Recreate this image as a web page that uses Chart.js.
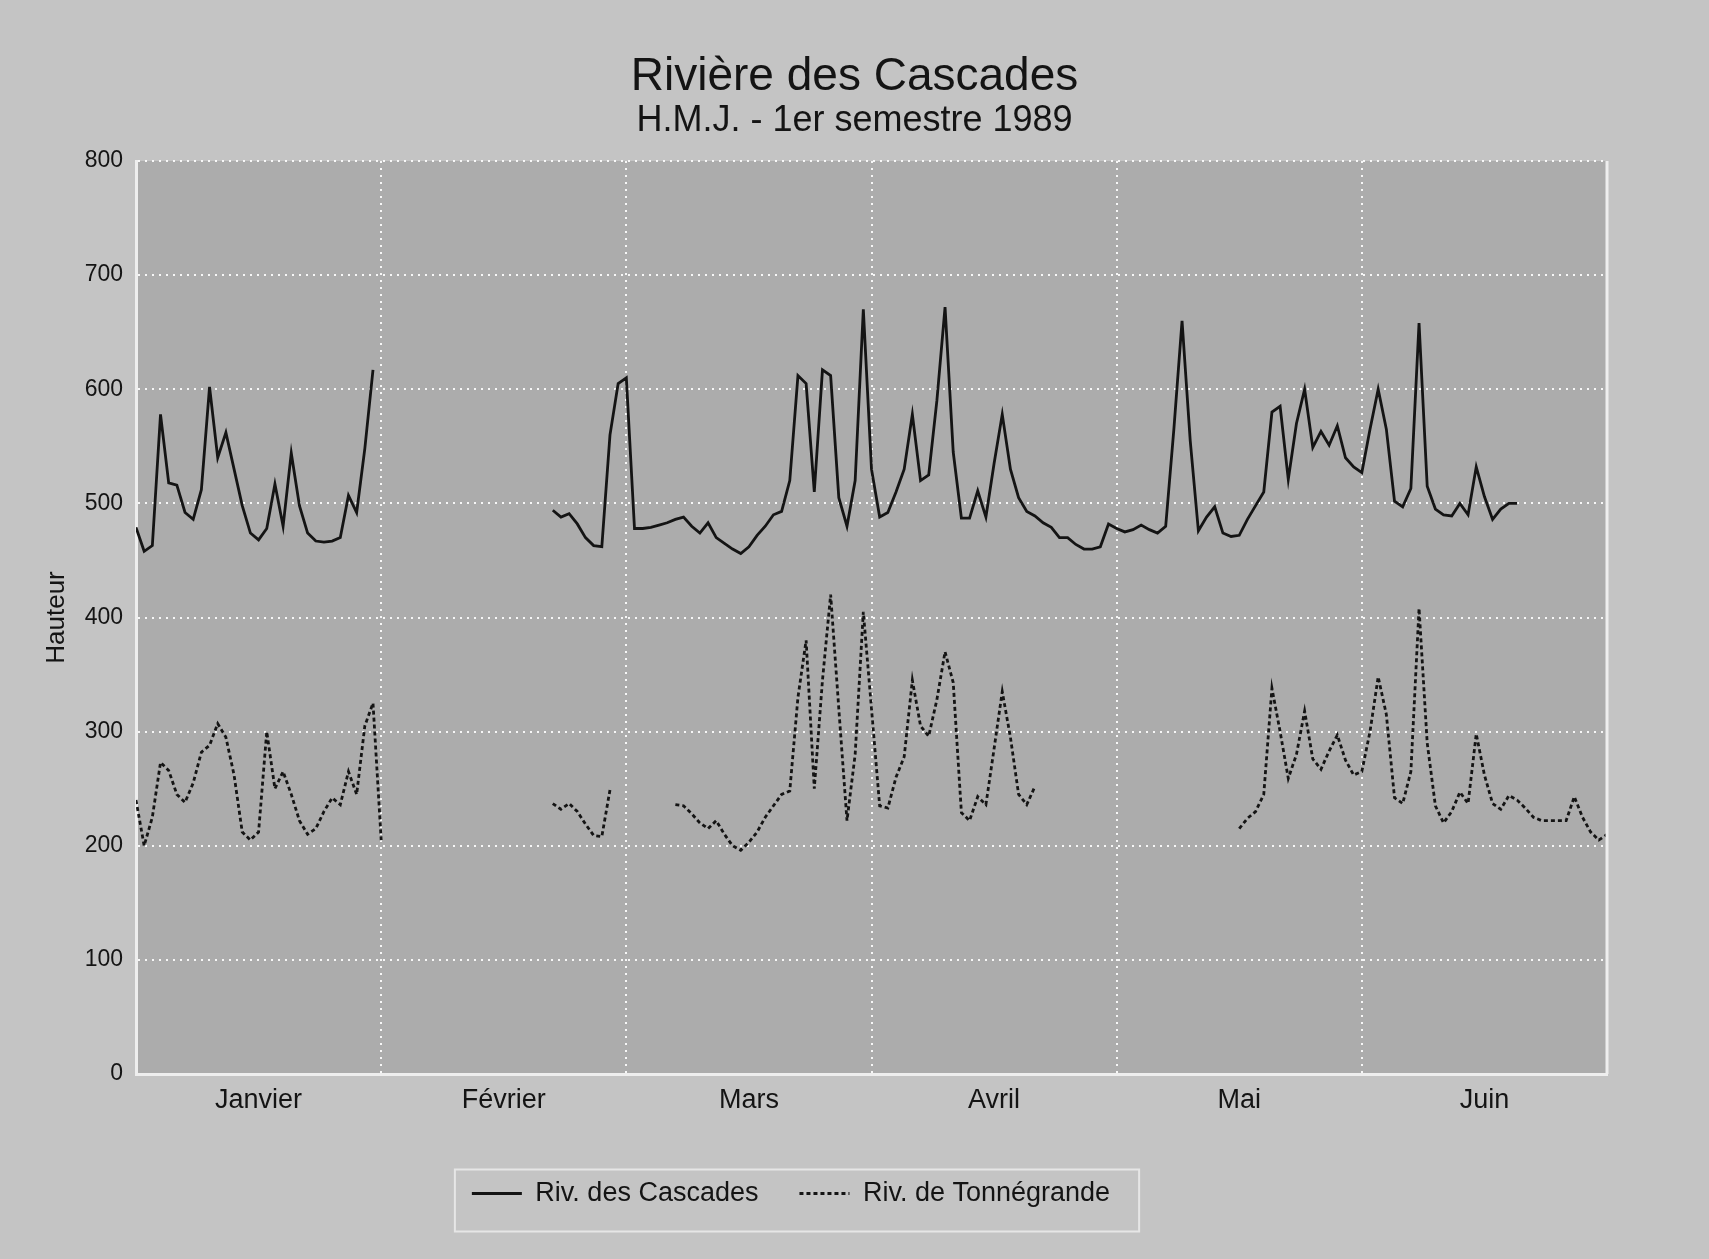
<!DOCTYPE html>
<html lang="fr">
<head>
<meta charset="utf-8">
<title>Rivière des Cascades</title>
<script src="https://cdn.jsdelivr.net/npm/chart.js@4.4.0/dist/chart.umd.min.js"></script>
<style>
  html, body { margin: 0; padding: 0; background: #c4c4c4; }
  canvas { display: block; }
</style>
</head>
<body>
<canvas id="hauteurChart" width="1709" height="1259"></canvas>
<script>
// Mois affichés sous l'axe X (6 intervalles égaux)
const mois = ['Janvier', 'Février', 'Mars', 'Avril', 'Mai', 'Juin'];

// Hauteurs journalières - Riv. des Cascades (null = pas de mesure)
const cascadesJanvier = [479, 458, 463, 578, 518, 516, 492, 486, 512, 602, 540, 562, 530, 498, 474, 468,
  478, 517, 480, 544, 498, 474, 467, 466, 467, 470, 507, 492, 548, 617, null];
const cascadesFevrier = [null, null, null, null, null, null, null, null, null, null, null, null, null, null,
  null, null, null, null, null, null, 494, 488, 491, 482, 470, 463, 462, 560];
const cascadesMars = [605, 610, 478, 478, 479, 481, 483, 486, 488, 480, 474, 483, 470, 465, 460, 456,
  462, 472, 480, 490, 493, 520, 612, 605, 510, 617, 612, 505, 480, 520, 670];
const cascadesAvril = [530, 488, 492, 510, 530, 578, 520, 525, 590, 672, 545, 487, 487, 511, 488, 535,
  578, 530, 505, 493, 489, 483, 479, 470, 470, 464, 460, 460, 462, 482];
const cascadesMai = [478, 475, 477, 481, 477, 474, 480, 565, 660, 555, 476, 488, 497, 474, 471, 472,
  486, 498, 510, 580, 585, 521, 570, 600, 549, 563, 551, 568, 540, 532, 527];
const cascadesJuin = [565, 600, 565, 502, 497, 513, 658, 515, 495, 490, 489, 500, 490, 532, 506, 486,
  495, 500, 500, null, null, null, null, null, null, null, null, null, null, null];

// Hauteurs journalières - Riv. de Tonnégrande
const tonnegrandeJanvier = [240, 200, 225, 273, 266, 245, 238, 255, 282, 288, 307, 295, 262, 212, 205, 212,
  300, 250, 265, 245, 222, 210, 215, 230, 242, 236, 265, 245, 305, 325, 205];
const tonnegrandeFevrier = [null, null, null, null, null, null, null, null, null, null, null, null, null, null,
  null, null, null, null, null, null, 237, 232, 237, 230, 219, 209, 208, 249];
const tonnegrandeMars = [null, null, null, null, null, null, null, 236, 235, 228, 220, 215, 222, 210, 200, 196,
  203, 212, 225, 235, 245, 248, 330, 380, 250, 345, 420, 320, 222, 280, 405];
const tonnegrandeAvril = [320, 235, 233, 260, 278, 345, 305, 296, 328, 370, 343, 229, 222, 243, 236, 285,
  335, 295, 245, 236, 252, null, null, null, null, null, null, null, null, null];
const tonnegrandeMai = [null, null, null, null, null, null, null, null, null, null, null, null, null, null, null,
  215, 224, 230, 245, 338, 300, 259, 280, 318, 276, 267, 283, 297, 275, 262, 265];
const tonnegrandeJuin = [300, 348, 315, 242, 237, 265, 408, 290, 235, 220, 230, 247, 237, 298, 262, 237,
  232, 244, 240, 233, 225, 222, 222, 222, 222, 243, 225, 212, 205, 210];

// Jour n (0 = 1er janvier) -> point {x, y}
const enPoints = serie => serie.map((y, i) => ({ x: i, y: y }));
const cascades = enPoints([].concat(cascadesJanvier, cascadesFevrier, cascadesMars,
  cascadesAvril, cascadesMai, cascadesJuin));
const tonnegrande = enPoints([].concat(tonnegrandeJanvier, tonnegrandeFevrier, tonnegrandeMars,
  tonnegrandeAvril, tonnegrandeMai, tonnegrandeJuin));

const police = "'Liberation Sans', Arial, Helvetica, sans-serif";
const encre = '#141414';
const grille = 'rgba(255, 255, 255, 0.9)';
Chart.defaults.font.family = police;
Chart.defaults.color = encre;

// Fond, bord droit du graphique et cadre de la légende
const cadre = {
  id: 'cadre',
  beforeDraw(chart) {
    const { ctx, chartArea: a } = chart;
    ctx.save();
    ctx.fillStyle = '#c4c4c4';
    ctx.fillRect(0, 0, chart.width, chart.height);
    ctx.fillStyle = '#acacac';
    ctx.fillRect(a.left, a.top, a.right - a.left, a.bottom - a.top);
    ctx.restore();
  },
  afterLayout(chart) {
    // légende décalée vers la gauche et remontée, comme sur l'original
    const lg = chart.legend;
    const centre = 791, milieuY = 1178;
    lg.left = 0;
    lg.right = 2 * centre;
    lg.width = 2 * centre;
    const dy = milieuY - (lg.top + lg.height / 2);
    lg.top += dy;
    lg.bottom += dy;
  },
  afterDraw(chart) {
    const { ctx, chartArea: a, legend } = chart;
    ctx.save();
    ctx.strokeStyle = '#eeeeee';
    ctx.lineWidth = 3;
    ctx.beginPath();
    ctx.moveTo(a.right, a.top);
    ctx.lineTo(a.right, a.bottom);
    ctx.stroke();

    const boites = legend.legendHitBoxes;
    const g = Math.min(...boites.map(b => b.left)) - 17;
    const d = Math.max(...boites.map(b => b.left + b.width)) + 29;
    const cy = boites[0].top + boites[0].height / 2 + 7;
    ctx.lineWidth = 2;
    ctx.strokeStyle = '#e6e6e6';
    ctx.strokeRect(g, cy - 31, d - g, 62);
    ctx.restore();
  }
};

const ctx = document.getElementById('hauteurChart').getContext('2d');
const chart = new Chart(ctx, {
  type: 'line',
  data: {
    datasets: [{
      label: 'Riv. des Cascades',
      data: cascades,
      borderColor: encre,
      borderWidth: 2.8,
      pointRadius: 0,
      tension: 0,
      spanGaps: false
    }, {
      label: 'Riv. de Tonnégrande',
      data: tonnegrande,
      borderColor: encre,
      borderWidth: 2.8,
      borderDash: [4, 3],
      pointRadius: 0,
      tension: 0,
      spanGaps: false
    }]
  },
  options: {
    responsive: false,
    animation: false,
    devicePixelRatio: 1,
    layout: { padding: 0 },
    plugins: {
      title: {
        display: true,
        text: 'Rivière des Cascades',
        color: encre,
        font: { size: 46, weight: 'normal', lineHeight: 1 },
        padding: { top: 54, bottom: 0 }
      },
      subtitle: {
        display: true,
        text: 'H.M.J. - 1er semestre 1989',
        color: encre,
        font: { size: 36, weight: 'normal', lineHeight: 1 },
        padding: { top: 3, bottom: 22 }
      },
      legend: {
        position: 'bottom',
        labels: {
          usePointStyle: true,
          pointStyle: 'line',
          pointStyleWidth: 50,
          padding: 41,
          color: encre,
          font: { size: 27 },
          // trait plein / pointillé repris de chaque série
          generateLabels: c => Chart.defaults.plugins.legend.labels.generateLabels(c).map((item, i) => {
            const ds = c.data.datasets[i];
            item.lineDash = ds.borderDash || [];
            item.lineWidth = ds.borderWidth;
            return item;
          })
        }
      },
      tooltip: { enabled: false }
    },
    scales: {
      x: {
        type: 'linear',
        min: 0,
        max: 180,
        afterBuildTicks: s => {
          s.ticks = [];
          for (let k = 0; k <= 12; k++) s.ticks.push({ value: k * 15 });
        },
        afterFit: s => { s.height = 1259 - 1074 - s.chart.legend.height; },
        ticks: {
          autoSkip: false,
          maxRotation: 0,
          padding: 10,
          font: { size: 27 },
          callback: v => {
            const k = Math.round(v / 15);
            return k % 2 ? mois[(k - 1) / 2] : '';
          }
        },
        grid: {
          drawTicks: false,
          lineWidth: 2,
          color: c => (c.tick && c.tick.value % 30 === 0 && c.tick.value > 0 && c.tick.value < 180)
            ? grille : 'transparent'
        },
        border: { display: true, color: '#eeeeee', width: 3, dash: [2, 5] }
      },
      y: {
        min: 0,
        max: 800,
        afterFit: s => { s.width = 136; },
        ticks: { stepSize: 100, padding: 13, font: { size: 23 } },
        grid: {
          drawTicks: false,
          lineWidth: 2,
          color: c => (c.tick && c.tick.value > 0) ? grille : 'transparent'
        },
        border: { display: true, color: '#eeeeee', width: 3, dash: [2, 5] },
        title: {
          display: true,
          text: 'Hauteur',
          font: { size: 26 },
          padding: { top: 41, bottom: 0 }
        }
      },
      y2: {
        position: 'right',
        display: true,
        afterFit: s => { s.width = 102; },
        ticks: { display: false },
        grid: { display: false, drawTicks: false },
        border: { display: false }
      }
    }
  },
  plugins: [cadre]
});
</script>
</body>
</html>
